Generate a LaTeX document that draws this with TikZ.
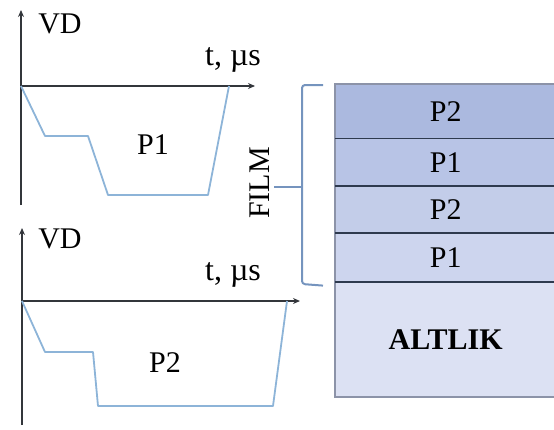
\documentclass[tikz,border=0pt]{standalone}
\usepackage{fontspec}
\setmainfont{Liberation Serif}
\usepackage{tikz}
\usetikzlibrary{positioning, arrows.meta, calc}
\definecolor{axisink}{HTML}{33363B}
\definecolor{pulse}{HTML}{8DB4D8}
\definecolor{bracec}{HTML}{7594BE}
\definecolor{sepink}{HTML}{2E3A4E}
\definecolor{edgec}{HTML}{8C93A8}
\definecolor{layA}{HTML}{ABB9DF}
\definecolor{layB}{HTML}{B8C4E6}
\definecolor{layC}{HTML}{C3CDE9}
\definecolor{layD}{HTML}{CDD5EE}
\definecolor{layE}{HTML}{DCE1F3}

\begin{document}
\begin{tikzpicture}[
  x=1pt, y=-1pt,
  lbl/.style={font=\fontsize{30}{33}\selectfont, inner sep=0pt},
  axis/.style={-{Stealth[length=7pt, width=6pt]}, line width=1.8pt, axisink},
  curve/.style={pulse, line width=1.8pt, line join=round},
  layer/.style={minimum width=221pt, inner sep=0pt, font=\fontsize{30}{33}\selectfont},
  sep/.style={sepink, line width=1.6pt},
  brc/.style={bracec, line width=2pt, rounded corners=3pt}
]
  \useasboundingbox (0,0) rectangle (554,429);

  % upper chart
  \coordinate (o1) at (21,86);
  \draw[axis] (21,205) -- (21,10);
  \draw[axis] (o1) -- (255,86);
  \draw[curve] (o1) -- (45,136) -- (88,136) -- (108,195) -- (208,195) -- (229,86);
  \node[lbl] (vd1) at (60,24) {VD};
  \node[lbl, font=\fontsize{32}{35}\selectfont] (t1) at (233,60) {t, \textmu s};
  \node[lbl] (p1) at (153,145) {P1};

  % lower chart
  \coordinate (o2) at (22,301);
  \draw[axis] (22,425) -- (22,228);
  \draw[axis] (o2) -- (300,301);
  \draw[curve] (o2) -- (45,352) -- (93,352) -- (98,406) -- (273,406) -- (287,301);
  \node[lbl] (vd2) at (60,239) {VD};
  \node[lbl, font=\fontsize{32}{35}\selectfont] (t2) at (233,275) {t, \textmu s};
  \node[lbl] (p2) at (165,363) {P2};

  % layer stack
  \node[layer, fill=layA, minimum height=54pt, anchor=north west] (l4) at (335,84) {P2};
  \node[layer, fill=layB, minimum height=47pt, below=0pt of l4] (l3) {P1};
  \node[layer, fill=layC, minimum height=47pt, below=0pt of l3] (l2) {P2};
  \node[layer, fill=layD, minimum height=48pt, below=0pt of l2] (l1) {P1};
  \node[layer, fill=layE, minimum height=115pt, below=0pt of l1, font=\fontsize{30}{33}\selectfont\bfseries] (alt) {ALTLIK};
  \draw[edgec, line width=1.4pt] (l4.north east) -- (l4.north west) -- (alt.south west) -- (alt.south east);
  \foreach \n in {l4, l3, l2}
    \draw[sep] (\n.south west) -- (\n.south east);
  \draw[sep, line width=2.2pt] (l1.south west) -- (l1.south east);

  % film brace
  \coordinate (btop) at ($(l4.north west)+(-12,1)$);
  \coordinate (bbot) at ($(l1.south west)+(-12,4)$);
  \coordinate (btip) at (302,187);
  \draw[brc] (btop) -- (302,85) -- (302,284) -- (bbot);
  \node[lbl, rotate=90] (film) at (260,183) {FILM};
  \draw[brc] ($(film.south)+(4,4)$) -- (btip);
\end{tikzpicture}
\end{document}
